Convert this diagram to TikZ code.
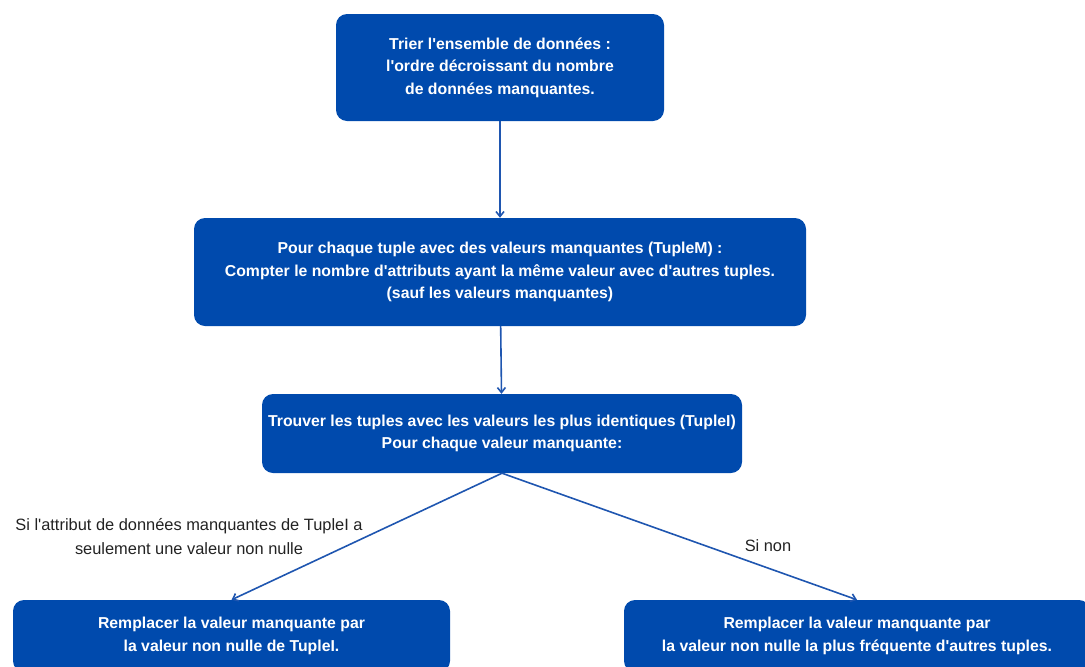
\documentclass[tikz,border=0pt]{standalone}
\usepackage{fontspec}
\setmainfont{Liberation Sans}[Ligatures=TeXOff]
\usetikzlibrary{arrows.meta,positioning}
\definecolor{boxblue}{HTML}{004AAD}
\definecolor{linkblue}{HTML}{1F56B0}
\definecolor{labelink}{HTML}{222222}

\begin{document}
\begin{tikzpicture}[x=1pt,y=-1pt,>={Straight Barb[length=5pt,width=8pt]},
 stepbox/.style={rectangle,rounded corners=11pt,fill=boxblue,text=white,
  font=\bfseries\fontsize{15.8}{22.5}\selectfont,align=center,inner sep=0pt},
 link/.style={->,draw=linkblue,line width=1.6pt},
 cond/.style={text=labelink,font=\fontsize{16.4}{24}\selectfont,align=center}]
\useasboundingbox (0,0) rectangle (1085,667);
\node[stepbox,minimum width=328pt,minimum height=107pt] (tri) at (500,67.5)
 {Trier l'ensemble de données :\\l'ordre décroissant du nombre\\ de données manquantes.};
\node[stepbox,minimum width=612pt,minimum height=108pt] (compte) at (500,272)
 {Pour chaque tuple avec des valeurs manquantes (TupleM) :\\Compter le nombre d'attributs ayant la même valeur avec d'autres tuples.\\(sauf les valeurs manquantes)};
\node[stepbox,minimum width=480pt,minimum height=79pt] (trouve) at (502,433.5)
 {Trouver les tuples avec les valeurs les plus identiques (TupleI)\\Pour chaque valeur manquante:};
\node[stepbox,minimum width=437pt,minimum height=72pt] (unique) at (231.5,636)
 {Remplacer la valeur manquante par\\la valeur non nulle de TupleI.};
\node[stepbox,minimum width=466pt,minimum height=72pt] (frequent) at (857,636)
 {Remplacer la valeur manquante par\\la valeur non nulle la plus fréquente d'autres tuples.};
% conditions
\node[cond] (siOui) at (189,537) {Si l'attribut de données manquantes de TupleI a\\seulement une valeur non nulle};
\node[cond] (siNon) at (768,546) {Si non};
\draw[link] (tri) -- (compte);
\draw[link] (compte) -- (trouve);
\draw[link] (trouve.south) -- (unique.north);
\draw[link] (trouve.south) -- (frequent.north);
\end{tikzpicture}
\end{document}
